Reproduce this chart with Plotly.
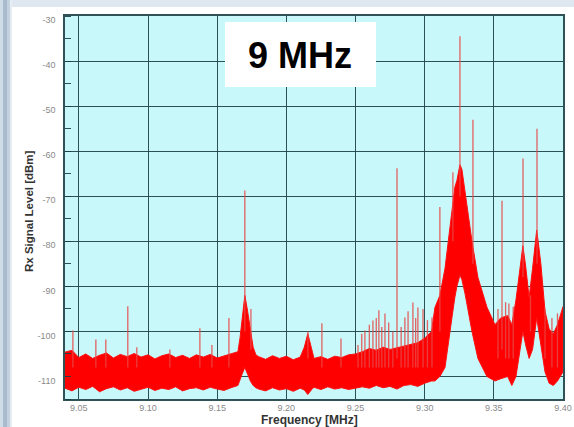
import plotly.graph_objects as go

# ---------------- data ----------------
# envelope of the dense spectrum trace (MHz, dBm)
freq_env = [
    9.040, 9.045, 9.050, 9.055, 9.060, 9.065, 9.070, 9.075, 9.080, 9.085,
    9.090, 9.095, 9.100, 9.105, 9.110, 9.115, 9.120, 9.125, 9.130, 9.135,
    9.140, 9.145, 9.150, 9.155, 9.160, 9.165,
    9.1665, 9.168, 9.170, 9.172, 9.174, 9.176, 9.178,
    9.180, 9.185, 9.190, 9.195, 9.200, 9.205, 9.210,
    9.2130, 9.2155, 9.2180,
    9.220, 9.225, 9.230, 9.235, 9.240, 9.245, 9.250,
    9.255, 9.260, 9.265, 9.270, 9.275, 9.280, 9.285, 9.290, 9.295, 9.300, 9.305,
    9.3074, 9.3110, 9.3147, 9.3197, 9.3218, 9.3233, 9.3255, 9.3269, 9.3291,
    9.3313, 9.3342, 9.3385, 9.3450, 9.3508,
    9.355, 9.360, 9.363, 9.366, 9.369, 9.371, 9.373, 9.3755, 9.378, 9.381,
    9.384, 9.387, 9.390, 9.393, 9.396, 9.400,
]
upper_env = [
    -104.6, -104.2, -105.8, -105.0, -106.0, -105.3, -104.8, -105.9, -105.1, -105.6,
    -104.9, -105.7, -105.2, -106.1, -105.4, -105.0, -105.8, -105.3, -106.0, -105.2,
    -105.7, -105.1, -105.9, -105.4, -105.0, -104.5,
    -101.5, -97.0, -92.0, -95.5, -99.5, -103.5, -105.2,
    -105.6, -106.2, -105.4, -106.0, -105.5, -106.3, -105.7,
    -103.5, -100.5, -103.5,
    -106.0, -105.6, -106.2, -105.5, -105.8, -105.2, -105.0,
    -104.5, -103.8, -104.2, -103.5, -104.0, -103.6, -103.2, -102.8, -102.5, -101.5, -100.0,
    -94.7, -92.0, -86.0, -73.0, -68.0, -66.5, -63.0, -64.0, -69.0,
    -73.0, -80.0, -88.0, -94.6, -98.5,
    -97.0, -96.5, -98.5, -93.0, -85.0, -81.0, -85.5, -92.5, -86.0, -77.5,
    -85.0, -95.5, -99.5, -100.5, -98.5, -94.5,
]
lower_env = [
    -112.6, -113.2, -112.4, -112.9, -112.2, -113.4, -112.7, -112.3, -113.0, -112.5,
    -113.3, -112.8, -112.4, -113.1, -112.6, -112.9, -112.3, -113.2, -112.7, -112.5,
    -113.0, -112.4, -112.8, -113.1, -112.5, -112.0,
    -111.0, -109.5, -108.0, -109.5, -111.0, -112.0, -112.5,
    -112.8, -113.2, -112.5, -113.0, -112.7, -113.3, -112.6,
    -113.0, -114.0, -113.0,
    -112.4, -112.9, -112.3, -112.8, -112.5, -112.9, -112.6,
    -112.3, -112.6, -112.0, -112.5, -112.2, -112.8, -112.0, -111.8, -112.2, -111.5, -111.0,
    -111.0, -110.0, -108.0, -97.0, -92.5, -90.0, -87.5, -88.5, -91.5,
    -95.0, -100.0, -106.0, -110.0, -111.0,
    -110.5, -110.0, -112.0, -110.0, -104.0, -100.0, -103.0, -106.0, -104.0, -97.0,
    -103.0, -109.0, -111.5, -112.0, -111.0, -109.0,
]

# narrow carrier spikes: frequency, top level, level where the spike leaves the band
spike_freq = [
    9.0457, 9.0623, 9.0695, 9.0854, 9.0919, 9.1158, 9.1375, 9.1462, 9.1585,
    9.1700, 9.1744, 9.2156, 9.2257, 9.2395,
    9.2518, 9.2545, 9.2568, 9.2600, 9.2626, 9.2650, 9.2669, 9.2690, 9.2713,
    9.2740, 9.2770, 9.2800, 9.2830, 9.2857, 9.2880, 9.2915, 9.2935, 9.2951,
    9.2988, 9.3020, 9.3053,
    9.3110, 9.3204, 9.3255, 9.3349, 9.3530, 9.3559, 9.3585, 9.3609, 9.3640,
    9.3711, 9.3765, 9.3812, 9.3870, 9.3920, 9.3960,
]
spike_top = [
    -99.8, -101.8, -101.8, -94.4, -103.5, -104.0, -99.3, -103.0, -97.0,
    -68.7, -95.0, -100.0, -98.2, -101.6,
    -103.0, -100.5, -99.8, -98.5, -97.6, -97.0, -95.3, -99.0, -96.0,
    -98.0, -100.0, -63.8, -99.0, -96.9, -95.5, -93.6, -97.0, -94.7,
    -95.0, -97.5, -96.9,
    -72.4, -64.7, -34.5, -53.0, -95.0, -71.0, -93.5, -93.8, -94.5,
    -61.6, -92.0, -55.0, -95.0, -97.0, -96.0,
]
spike_base = [
    -108, -108, -108, -108, -108, -108, -108, -108, -108,
    -100, -104, -106, -108, -108,
    -108, -108, -108, -108, -108, -108, -108, -108, -108,
    -108, -108, -106, -108, -108, -108, -108, -108, -108,
    -108, -108, -108,
    -100, -80, -70, -85, -106, -104, -106, -106, -106,
    -88, -100, -85, -106, -108, -108,
]

x_ticks = [9.05, 9.10, 9.15, 9.20, 9.25, 9.30, 9.35, 9.40]
x_tick_labels = ["9.05", "9.10", "9.15", "9.20", "9.25", "9.30", "9.35", "9.40"]
y_ticks = [-30, -40, -50, -60, -70, -80, -90, -100, -110]
y_tick_labels = ["-30", "-40", "-50", "-60", "-70", "-80", "-90", "-100", "-110"]

x_title = "Frequency [MHz]"
y_title = "Rx Signal Level [dBm]"
label_text = "9 MHz"

# ---------------- figure ----------------
W, H = 574, 427
ML, MR, MT, MB = 65, 11, 16, 28
PW, PH = W - ML - MR, H - MT - MB


def px(xp):
    return (xp - ML) / PW


def py(yp):
    return (H - MB - yp) / PH


fig = go.Figure()

band_x = freq_env + freq_env[::-1]
band_y = upper_env + lower_env[::-1]
fig.add_trace(go.Scatter(
    x=band_x, y=band_y, mode="lines", fill="toself",
    fillcolor="#ff0000", line=dict(color="#ff1010", width=1),
    hoverinfo="skip", showlegend=False,
))

sx, sy = [], []
for f, top, base in zip(spike_freq, spike_top, spike_base):
    sx += [f, f, None]
    sy += [base, top, None]
fig.add_trace(go.Scatter(
    x=sx, y=sy, mode="lines",
    line=dict(color="rgba(232,70,70,0.85)", width=1.3),
    hoverinfo="skip", showlegend=False,
))

grid_col = "rgba(25,62,66,0.9)"
tick_font = dict(family="Liberation Sans, Arial, sans-serif", size=9, color="#8a8a8a")

fig.update_xaxes(
    range=[9.04, 9.40], tickvals=x_ticks, ticktext=x_tick_labels,
    showgrid=True, gridcolor=grid_col, gridwidth=1.3,
    showline=True, linecolor=grid_col, linewidth=1.5, mirror=True,
    zeroline=False, ticks="", tickfont=tick_font,
    ticklabelstandoff=-1, automargin=False,
)
fig.update_yaxes(
    range=[-115, -30], tickvals=y_ticks, ticktext=y_tick_labels,
    showgrid=True, gridcolor=grid_col, gridwidth=1.3,
    showline=True, linecolor=grid_col, linewidth=1.5, mirror=True,
    zeroline=False, ticks="", tickfont=tick_font,
    ticklabelstandoff=6, ticklabelshift=4, automargin=False,
    minor=dict(dtick=5, tick0=0, ticks="inside", ticklen=6,
               tickcolor=grid_col, tickwidth=1.2, showgrid=False),
)

shapes = [
    # light strip along the top of the page
    dict(type="rect", xref="paper", yref="paper", x0=px(0), x1=px(W), y0=py(7), y1=py(0),
         fillcolor="#dfe8f1", line=dict(width=0), layer="below"),
    # shaded strip on the left edge
    dict(type="rect", xref="paper", yref="paper", x0=px(0), x1=px(3), y0=py(H), y1=py(0),
         fillcolor="#cfdbe6", line=dict(width=0), layer="below"),
    dict(type="rect", xref="paper", yref="paper", x0=px(3), x1=px(7), y0=py(H), y1=py(0),
         fillcolor="#a9bbcc", line=dict(width=0), layer="below"),
    dict(type="rect", xref="paper", yref="paper", x0=px(7), x1=px(10), y0=py(H), y1=py(0),
         fillcolor="#c4d1de", line=dict(width=0), layer="below"),
    dict(type="rect", xref="paper", yref="paper", x0=px(10), x1=px(12), y0=py(H), y1=py(0),
         fillcolor="#e6edf3", line=dict(width=0), layer="below"),
    # white label box
    dict(type="rect", xref="paper", yref="paper", x0=px(225), x1=px(376), y0=py(87), y1=py(22),
         fillcolor="#ffffff", line=dict(width=0), layer="above"),
]

annotations = [
    dict(text="<b>" + label_text + "</b>", xref="paper", yref="paper",
         x=px(300), y=py(56), xanchor="center", yanchor="middle", showarrow=False,
         font=dict(family="Liberation Sans, Arial, sans-serif", size=36, color="#000000")),
    dict(text="<b>" + x_title + "</b>", xref="paper", yref="paper",
         x=px(309), y=py(420), xanchor="center", yanchor="middle", showarrow=False,
         font=dict(family="Liberation Sans, Arial, sans-serif", size=12, color="#333333")),
    dict(text="<b>" + y_title + "</b>", xref="paper", yref="paper",
         x=px(29), y=py(211), xanchor="center", yanchor="middle", showarrow=False,
         textangle=-90,
         font=dict(family="Liberation Sans, Arial, sans-serif", size=11.5, color="#333333")),
]

fig.update_layout(
    width=W, height=H,
    margin=dict(l=ML, r=MR, t=MT, b=MB, pad=0),
    paper_bgcolor="#ffffff", plot_bgcolor="#c8f8fa",
    shapes=shapes, annotations=annotations,
    showlegend=False,
)

fig.write_html("out.html")
